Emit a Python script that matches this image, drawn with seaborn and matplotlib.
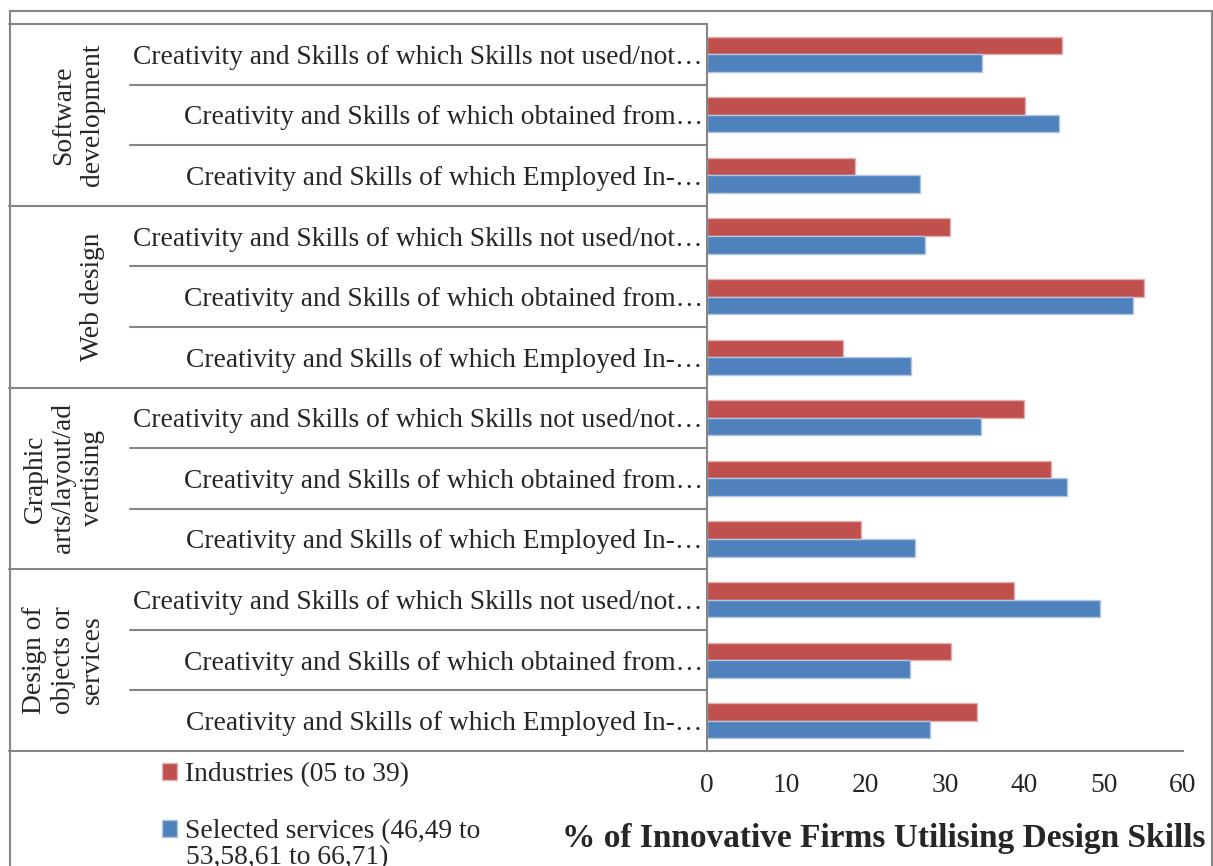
import numpy as np
import pandas as pd
import matplotlib
matplotlib.use("Agg")
import matplotlib.pyplot as plt
import matplotlib.transforms as mtransforms
from matplotlib.patches import Rectangle
import seaborn as sns

# data
groups = ["Software development", "Web design",
          "Graphic arts/layout/advertising", "Design of objects or services"]
group_labels = ["Software\ndevelopment", "Web design",
                "Graphic\narts/layout/ad\nvertising", "Design of\nobjects or\nservices"]
subcats = ["Creativity and Skills of which Skills not used/not\u2026",
           "Creativity and Skills of which obtained from\u2026",
           "Creativity and Skills of which Employed In-\u2026"]
series = ["Industries (05 to 39)", "Selected services (46,49 to 53,58,61 to 66,71)"]
legend_labels = ["Industries (05 to 39)", "Selected services (46,49 to"]
legend_cont = "53,58,61 to 66,71)"
industries = [44.8, 40.1, 18.7, 30.6, 55.1, 17.2, 39.9, 43.4, 19.4, 38.7, 30.7, 34.0]
services = [34.7, 44.4, 26.9, 27.5, 53.7, 25.7, 34.5, 45.4, 26.2, 49.6, 25.6, 28.1]
colors = ["#C0504D", "#4F81BD"]

keys = [f"{g}|{s}" for g in groups for s in subcats]
df = pd.DataFrame({
    "key": keys * 2,
    "value": industries + services,
    "series": [series[0]] * len(keys) + [series[1]] * len(keys),
})

sns.set_style("white")
plt.rcParams["font.family"] = ["Liberation Serif", "DejaVu Serif"]
FS = 19.8
grey = "#868686"

fig = plt.figure(figsize=(12.13, 8.66), dpi=100)
ax = fig.add_axes([707 / 1213, 1 - 751 / 866, 476 / 1213, 727 / 866])

sns.barplot(data=df, x="value", y="key", hue="series", order=keys,
            hue_order=series, palette=colors, orient="h", width=0.58,
            saturation=1, ax=ax, legend=True)
for p in ax.patches:
    fc = np.array(p.get_facecolor()[:3])
    p.set_edgecolor(tuple(fc + (1 - fc) * 0.55))
    p.set_linewidth(1.0)

ax.set_xlim(0, 60)
ax.set_ylim(len(keys) - 0.5, -0.5)
ax.set_xticks(range(0, 61, 10))
ax.set_yticks(range(len(keys)))
ax.set_yticklabels([k.split("|")[1] for k in keys])
ax.tick_params(axis="y", length=0, pad=3, labelsize=FS)
ax.tick_params(axis="x", length=6, width=1.5, color=grey, pad=10, labelsize=FS)
ax.set_ylabel("")
ax.set_xlabel("% of Innovative Firms Utilising Design Skills", fontsize=24,
              fontweight="bold", ha="right", va="center")
ax.xaxis.set_label_coords((1205 - 707) / 476, -88 / 727)
for side in ["top", "right"]:
    ax.spines[side].set_visible(False)
for side in ["left", "bottom"]:
    ax.spines[side].set_color(grey)
    ax.spines[side].set_linewidth(1.5)

# table lines left of the axis
tr = mtransforms.blended_transform_factory(fig.transFigure, ax.transData)
for i in range(len(keys) + 1):
    y = i - 0.5
    x0 = 9 / 1213 if i % 3 == 0 else 130 / 1213
    ax.plot([x0, 707 / 1213], [y, y], transform=tr, color=grey, lw=1.5,
            clip_on=False)
for gi, gl in enumerate(group_labels):
    ax.text(105 / 1213, gi * 3 + 1, gl, transform=tr, rotation=90,
            ha="right", va="center", multialignment="center", fontsize=FS,
            linespacing=1.2)

# outer chart border
fig.add_artist(Rectangle((9.5 / 1213, -0.1), (1211.5 - 9.5) / 1213,
                         1.1 - 11 / 866, transform=fig.transFigure,
                         fill=False, edgecolor=grey, lw=1.5))

handles, _ = ax.get_legend_handles_labels()
ax.legend_.remove()
fig.legend(handles, legend_labels, loc="upper left",
           bbox_to_anchor=(162 / 1213, 1 - 762 / 866), frameon=False,
           fontsize=FS, handlelength=0.55, handleheight=0.55,
           handletextpad=0.3, labelspacing=1.17, borderpad=0,
           borderaxespad=0)
fig.text(186 / 1213, 1 - 858 / 866, legend_cont, fontsize=FS,
         ha="left", va="center")

fig.savefig("out.png", dpi=100)
